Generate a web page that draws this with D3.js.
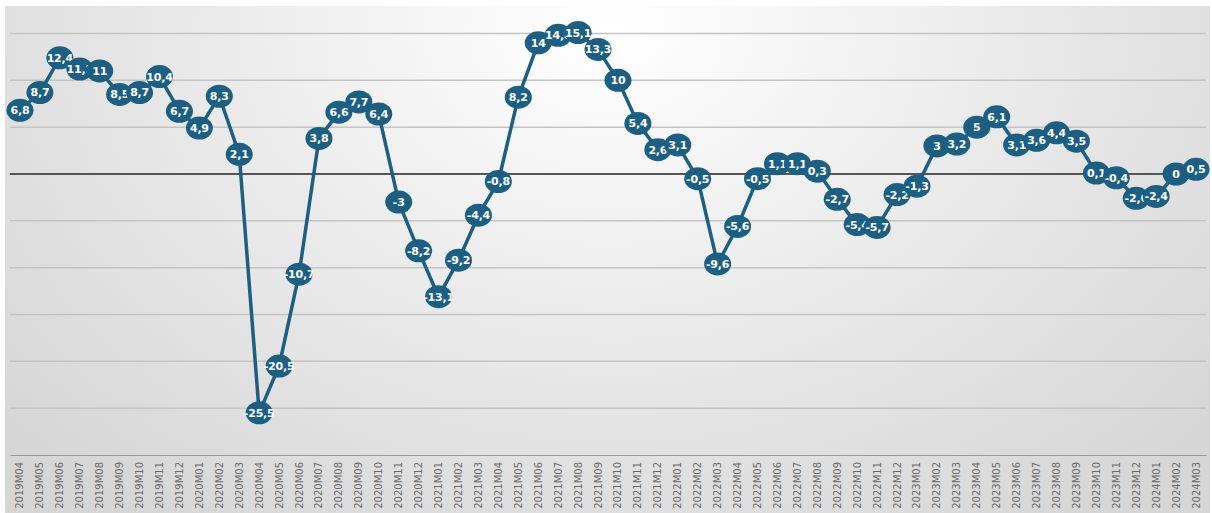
<!DOCTYPE html>
<html>
<head>
<meta charset="utf-8">
<script src="https://cdn.jsdelivr.net/npm/d3@7"></script>
<style>
  html, body { margin: 0; padding: 0; background: #ffffff; }
  svg { display: block; }
</style>
</head>
<body>
<svg id="chart" width="1212" height="513"></svg>
<script>
// Monthly year-on-year change, 2019M04 – 2024M03
const months = [
  "2019M04","2019M05","2019M06","2019M07","2019M08","2019M09","2019M10","2019M11","2019M12",
  "2020M01","2020M02","2020M03","2020M04","2020M05","2020M06","2020M07","2020M08","2020M09","2020M10","2020M11","2020M12",
  "2021M01","2021M02","2021M03","2021M04","2021M05","2021M06","2021M07","2021M08","2021M09","2021M10","2021M11","2021M12",
  "2022M01","2022M02","2022M03","2022M04","2022M05","2022M06","2022M07","2022M08","2022M09","2022M10","2022M11","2022M12",
  "2023M01","2023M02","2023M03","2023M04","2023M05","2023M06","2023M07","2023M08","2023M09","2023M10","2023M11","2023M12",
  "2024M01","2024M02","2024M03"
];
const values = [
  6.8, 8.7, 12.4, 11.2, 11, 8.5, 8.7, 10.4, 6.7,
  4.9, 8.3, 2.1, -25.5, -20.5, -10.7, 3.8, 6.6, 7.7, 6.4, -3, -8.2,
  -13.1, -9.2, -4.4, -0.8, 8.2, 14, 14.8, 15.1, 13.3, 10, 5.4, 2.6,
  3.1, -0.5, -9.6, -5.6, -0.5, 1.1, 1.1, 0.3, -2.7, -5.4, -5.7, -2.2,
  -1.3, 3, 3.2, 5, 6.1, 3.1, 3.6, 4.4, 3.5, 0.1, -0.4, -2.6,
  -2.4, 0, 0.5
];
const gridValues = [15, 10, 5, -5, -10, -15, -20, -25];

const svg = d3.select("#chart");
const bg = { x0: 5, y0: 6, x1: 1210, y1: 513 };
const plot = { left: 10, right: 1206 };
const axisY = 455;

// soft radial background
const defs = svg.append("defs");
const grad = defs.append("radialGradient")
  .attr("id", "bgGrad")
  .attr("gradientUnits", "userSpaceOnUse")
  .attr("cx", 610).attr("cy", 30)
  .attr("r", 800)
  .attr("gradientTransform", "translate(610,30) scale(1,0.75) translate(-610,-30)");
grad.append("stop").attr("offset", "0%").attr("stop-color", "#ffffff");
grad.append("stop").attr("offset", "55%").attr("stop-color", "#e8e8e8");
grad.append("stop").attr("offset", "100%").attr("stop-color", "#d6d6d6");

svg.append("rect")
  .attr("x", bg.x0).attr("y", bg.y0)
  .attr("width", bg.x1 - bg.x0).attr("height", bg.y1 - bg.y0)
  .attr("fill", "url(#bgGrad)");

const x = d3.scaleBand()
  .domain(months)
  .range([plot.left, plot.right]);

const y = d3.scaleLinear()
  .domain([-30, 0])
  .range([axisY, 174]);

// horizontal gridlines
svg.append("g").selectAll("line")
  .data(gridValues)
  .join("line")
  .attr("x1", plot.left).attr("x2", plot.right)
  .attr("y1", d => y(d)).attr("y2", d => y(d))
  .attr("stroke", "#c4c4c4")
  .attr("stroke-width", 1.5);

// zero line
svg.append("line")
  .attr("x1", plot.left).attr("x2", plot.right)
  .attr("y1", y(0)).attr("y2", y(0))
  .attr("stroke", "#555555")
  .attr("stroke-width", 2);

// category axis
const xAxis = d3.axisBottom(x).tickSize(0).tickPadding(0);
const ax = svg.append("g")
  .attr("transform", `translate(0,${axisY})`)
  .call(xAxis);
ax.select(".domain").attr("stroke", "#9a9a9a").attr("stroke-width", 1.2);
ax.selectAll("text")
  .attr("transform", "rotate(-90)")
  .attr("x", -7)
  .attr("y", 0)
  .attr("dy", "0.35em")
  .attr("text-anchor", "end")
  .attr("font-family", "DejaVu Sans, Verdana, sans-serif")
  .attr("font-size", 10)
  .attr("fill", "#6a6a6a");

const cx = d => x(d) + x.bandwidth() / 2;
const pts = months.map((m, i) => ({ m, v: values[i] }));

// series line
const line = d3.line()
  .x(d => cx(d.m))
  .y(d => y(d.v));

svg.append("path")
  .datum(pts)
  .attr("d", line)
  .attr("fill", "none")
  .attr("stroke", "#1c5f82")
  .attr("stroke-width", 3.5)
  .attr("stroke-linejoin", "round");

// markers with value labels
const fmt = v => String(v).replace(".", ",");
const mk = svg.append("g").selectAll("g")
  .data(pts)
  .join("g")
  .attr("transform", d => `translate(${cx(d.m)},${y(d.v)})`);

mk.append("ellipse")
  .attr("rx", 13.5)
  .attr("ry", 11.5)
  .attr("fill", "#1c5f82");

mk.append("text")
  .text(d => fmt(d.v))
  .attr("text-anchor", "middle")
  .attr("dy", "0.36em")
  .attr("font-family", "DejaVu Sans, Verdana, sans-serif")
  .attr("font-weight", "bold")
  .attr("font-size", 11)
  .attr("letter-spacing", -0.2)
  .attr("fill", "#ffffff");
</script>
</body>
</html>
